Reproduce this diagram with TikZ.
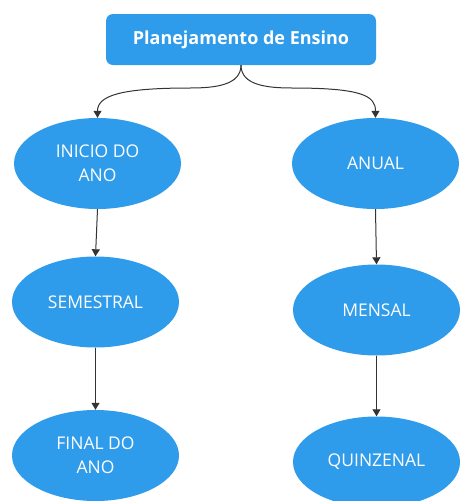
\documentclass[tikz,border=0pt]{standalone}
\usepackage{fontspec}
\setmainfont{Open Sans}
\usetikzlibrary{shapes.geometric,arrows.meta}
\definecolor{nodeblue}{HTML}{2F9BEB}
\definecolor{linegray}{HTML}{333333}
\tikzset{
  ell/.style={ellipse, fill=nodeblue, draw=none, minimum width=167pt, minimum height=91pt, inner sep=0pt, text=white, align=center, font=\fontsize{17.5}{24}\selectfont},
  titlebox/.style={rectangle, rounded corners=7pt, fill=nodeblue, draw=none, minimum width=270pt, minimum height=51pt, text=white, font=\fontsize{18}{22}\selectfont\bfseries},
  conn/.style={draw=linegray, line width=1pt, -{Triangle[length=7pt,width=8pt]}}
}
\begin{document}
\begin{tikzpicture}[x=1pt,y=-1pt]
\useasboundingbox (0,0) rectangle (473,501);
\node[titlebox] (top) at (241,39.5) {Planejamento de Ensino};
\node[ell] (inicio) at (97.5,163.5) {INICIO DO\\ANO};
\node[ell] (semestral) at (95.5,302) {SEMESTRAL};
\node[ell] (final) at (95.5,455.5) {FINAL DO\\ANO};
\node[ell] (anual) at (375.5,163.5) {ANUAL};
\node[ell] (mensal) at (376.5,310) {MENSAL};
\node[ell] (quinzenal) at (376.5,462) {QUINZENAL};
\coordinate (brL) at (190,88);
\coordinate (brR) at (292,88);
\draw[conn] (top.south) .. controls +(0,20) and +(25,0) .. (brL) .. controls +(-70,0) and +(0,-22) .. (inicio.north);
\draw[conn] (top.south) .. controls +(0,20) and +(-25,0) .. (brR) .. controls +(70,0) and +(0,-22) .. (anual.north);
\draw[conn] (inicio.south) -- (semestral.north);
\draw[conn] (semestral.south) -- (final.north);
\draw[conn] (anual.south) -- (mensal.north);
\draw[conn] (mensal.south) -- (quinzenal.north);
\end{tikzpicture}
\end{document}
